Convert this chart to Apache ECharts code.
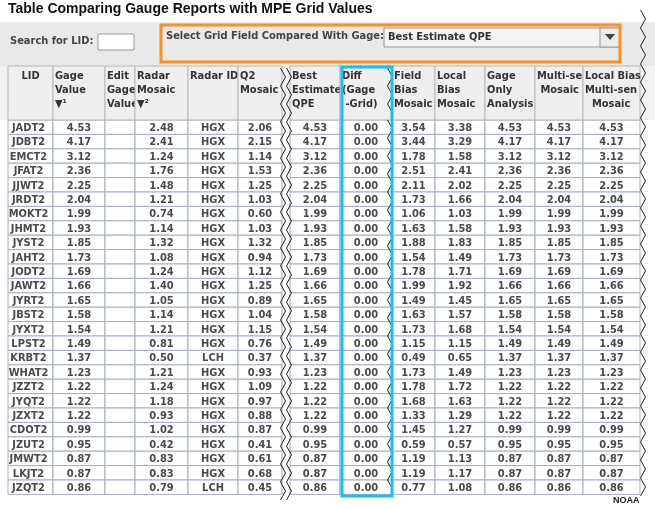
<!DOCTYPE html>
<html lang="en">
<head>
<meta charset="UTF-8">
<title>Gauge vs MPE</title>
<script src="https://cdn.jsdelivr.net/npm/echarts@6/dist/echarts.min.js"></script>
<style>body{margin:0;background:#fff}</style>
</head>
<body>
<div id="main" style="width:655px;height:510px"></div>
<script>
// data
var lids = ['JADT2','JDBT2','EMCT2','JFAT2','JJWT2','JRDT2','MOKT2','JHMT2','JYST2','JAHT2','JODT2','JAWT2','JYRT2','JBST2','JYXT2','LPST2','KRBT2','WHAT2','JZZT2','JYQT2','JZXT2','CDOT2','JZUT2','JMWT2','LKJT2','JZQT2'];
var gageValue = [4.53,4.17,3.12,2.36,2.25,2.04,1.99,1.93,1.85,1.73,1.69,1.66,1.65,1.58,1.54,1.49,1.37,1.23,1.22,1.22,1.22,0.99,0.95,0.87,0.87,0.86];
var radarMosaic = [2.48,2.41,1.24,1.76,1.48,1.21,0.74,1.14,1.32,1.08,1.24,1.40,1.05,1.14,1.21,0.81,0.50,1.21,1.24,1.18,0.93,1.02,0.42,0.83,0.83,0.79];
var radarId = ['HGX','HGX','HGX','HGX','HGX','HGX','HGX','HGX','HGX','HGX','HGX','HGX','HGX','HGX','HGX','HGX','LCH','HGX','HGX','HGX','HGX','HGX','HGX','HGX','HGX','LCH'];
var q2Mosaic = [2.06,2.15,1.14,1.53,1.25,1.03,0.60,1.03,1.32,0.94,1.12,1.25,0.89,1.04,1.15,0.76,0.37,0.93,1.09,0.97,0.88,0.87,0.41,0.61,0.68,0.45];
var bestEstimate = [4.53,4.17,3.12,2.36,2.25,2.04,1.99,1.93,1.85,1.73,1.69,1.66,1.65,1.58,1.54,1.49,1.37,1.23,1.22,1.22,1.22,0.99,0.95,0.87,0.87,0.86];
var diff = [0,0,0,0,0,0,0,0,0,0,0,0,0,0,0,0,0,0,0,0,0,0,0,0,0,0];
var fieldBias = [3.54,3.44,1.78,2.51,2.11,1.73,1.06,1.63,1.88,1.54,1.78,1.99,1.49,1.63,1.73,1.15,0.49,1.73,1.78,1.68,1.33,1.45,0.59,1.19,1.19,0.77];
var localBias = [3.38,3.29,1.58,2.41,2.02,1.66,1.03,1.58,1.83,1.49,1.71,1.92,1.45,1.57,1.68,1.15,0.65,1.49,1.72,1.63,1.29,1.27,0.57,1.13,1.17,1.08];
var gageOnly = [4.53,4.17,3.12,2.36,2.25,2.04,1.99,1.93,1.85,1.73,1.69,1.66,1.65,1.58,1.54,1.49,1.37,1.23,1.22,1.22,1.22,0.99,0.95,0.87,0.87,0.86];
var multiSensor = [4.53,4.17,3.12,2.36,2.25,2.04,1.99,1.93,1.85,1.73,1.69,1.66,1.65,1.58,1.54,1.49,1.37,1.23,1.22,1.22,1.22,0.99,0.95,0.87,0.87,0.86];
var localBiasMulti = [4.53,4.17,3.12,2.36,2.25,2.04,1.99,1.93,1.85,1.73,1.69,1.66,1.65,1.58,1.54,1.49,1.37,1.23,1.22,1.22,1.22,0.99,0.95,0.87,0.87,0.86];
var headers = ['LID','Gage\nValue\n▼¹','Edit\nGage\nValue','Radar\nMosaic\n▼²','Radar ID','Q2\nMosaic','Best\nEstimate\nQPE','Diff\n(Gage\n -Grid)','Field\nBias\nMosaic','Local\nBias\nMosaic','Gage\nOnly\nAnalysis','Multi-se\n Mosaic','Local Bias\nMulti-sen\n  Mosaic'];

// layout
var colEdges = [8,53,105,135,188,238,282,290,340,392,435,485,535,583,640];
var rowTop = 120, rowH = 14.4;
var cols = [lids, gageValue, null, radarMosaic, radarId, q2Mosaic, bestEstimate, diff, fieldBias, localBias, gageOnly, multiSensor, localBiasMulti];
function colX(c) { return c < 6 ? colEdges[c] : colEdges[c + 1]; }
function colR(c) { return c < 6 ? colEdges[c + 1] : colEdges[c + 2]; }

var cells = [];
cols.forEach(function (arr, c) {
    for (var r = 0; r < lids.length; r++) {
        var v = arr ? arr[r] : '';
        cells.push([c, r, typeof v === 'number' ? v.toFixed(2) : v]);
    }
});

function zig(x, y0, y1) {
    var pts = [], s = 0;
    for (var y = y0; y <= y1; y += 9) { pts.push([x + (s ? 2.5 : -2.5), y]); s = 1 - s; }
    return { type: 'polyline', shape: { points: pts }, style: { stroke: '#222', lineWidth: 1, fill: null }, z: 20 };
}

var chart = echarts.init(document.getElementById('main'));
var font = '"DejaVu Sans Condensed"';
chart.setOption({
    animation: false,
    grid: { left: 0, top: 0, width: 655, height: 510 },
    xAxis: { type: 'value', min: 0, max: 655, show: false },
    yAxis: { type: 'value', min: 0, max: 510, inverse: true, show: false },
    graphic: [
        { type: 'text', left: 8, top: 2, style: { text: 'Table Comparing Gauge Reports with MPE Grid Values', font: 'bold 14px "Liberation Sans"', fill: '#111' } },
        { type: 'rect', shape: { x: 0, y: 22, width: 655, height: 44 }, style: { fill: '#e9e9e9' }, z: 0 },
        { type: 'text', x: 10, y: 36, style: { text: 'Search for LID:', font: 'bold 11px ' + font, fill: '#444' } },
        { type: 'rect', shape: { x: 98, y: 34, width: 36, height: 16 }, style: { fill: '#fff', stroke: '#999' } },
        { type: 'rect', shape: { x: 384, y: 28, width: 236, height: 19 }, style: { fill: '#f4f4f4', stroke: '#999' } },
        { type: 'rect', shape: { x: 600, y: 28, width: 20, height: 19 }, style: { fill: '#ececec', stroke: '#999' } },
        { type: 'polygon', shape: { points: [[605, 34], [615, 34], [610, 40]] }, style: { fill: '#444' } },
        { type: 'text', x: 166, y: 31, style: { text: 'Select Grid Field Compared With Gage:', font: 'bold 11px ' + font, fill: '#444' } },
        { type: 'text', x: 388, y: 32, style: { text: 'Best Estimate QPE', font: 'bold 11px ' + font, fill: '#333' } },
        { type: 'rect', shape: { x: 161, y: 25, width: 459, height: 37 }, style: { fill: null, stroke: '#f7941d', lineWidth: 3 }, z: 30 },
        { type: 'rect', shape: { x: 0, y: 66, width: 655, height: 54 }, style: { fill: '#f2f2f2' }, z: 0 },
        { type: 'rect', shape: { x: 342, y: 67, width: 50, height: 429 }, style: { fill: null, stroke: '#17c0f0', lineWidth: 3 }, z: 30 },
        zig(283, 68, 500), zig(289, 68, 500), zig(390, 68, 120), zig(390, 120, 496), zig(643, 10, 500),
        { type: 'text', x: 613, y: 496, style: { text: 'NOAA', font: 'bold 9px "Liberation Sans"', fill: '#222' } }
    ],
    series: [{
        type: 'custom',
        data: cells,
        renderItem: function (params, api) {
            var c = api.value(0), r = api.value(1);
            var p0 = api.coord([colX(c), rowTop + r * rowH]);
            var p1 = api.coord([colR(c), rowTop + (r + 1) * rowH]);
            var children = [
                { type: 'rect', shape: { x: p0[0], y: p0[1], width: p1[0] - p0[0], height: p1[1] - p0[1] }, style: { fill: '#fff', stroke: '#a3aec0', lineWidth: 1 } },
                { type: 'text', style: { x: (p0[0] + p1[0]) / 2 + (c === 0 ? -2 : 0), y: (p0[1] + p1[1]) / 2 + 1, text: cells[params.dataIndex][2], align: 'center', verticalAlign: 'middle', font: 'bold 11px ' + font, fill: '#4a4a4a' } }
            ];
            if (r === 0) {
                var h0 = api.coord([colX(c), 66]);
                children.push({ type: 'rect', shape: { x: h0[0], y: h0[1], width: p1[0] - p0[0], height: p0[1] - h0[1] }, style: { fill: '#efefef', stroke: '#b8b8b8', lineWidth: 1 } });
                children.push({ type: 'text', style: { x: c === 0 ? (p0[0] + p1[0]) / 2 : h0[0] + 2, y: h0[1] + 3, text: headers[c], align: c === 0 ? 'center' : 'left', font: 'bold 11px ' + font, lineHeight: 14, fill: '#333' } });
            }
            return { type: 'group', children: children };
        }
    }]
});
</script>
</body>
</html>
